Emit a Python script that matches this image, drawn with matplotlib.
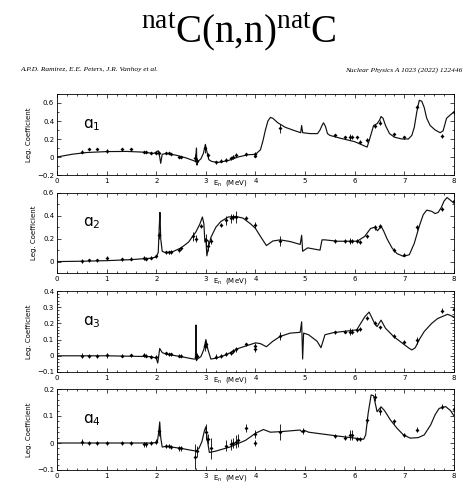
import matplotlib
matplotlib.use("Agg")
import matplotlib.pyplot as plt
from matplotlib.ticker import MultipleLocator, FuncFormatter

# --- Data ---
# a1
a1_curve_e = [0.0, 0.3, 0.6, 1.0, 1.4, 1.7, 1.95, 2.04, 2.07, 2.09, 2.12, 2.2, 2.4, 2.6, 2.75, 2.79, 2.81,
              2.82, 2.84, 2.9, 2.95, 2.99, 3.02, 3.06, 3.12, 3.25, 3.45, 3.65, 3.85, 4.0, 4.1, 4.15, 4.2,
              4.25, 4.3, 4.35, 4.45, 4.6, 4.75, 4.91, 4.93, 4.95, 5.1, 5.25, 5.3, 5.34, 5.37, 5.41, 5.45,
              5.5, 5.7, 6.0, 6.25, 6.3, 6.38, 6.45, 6.5, 6.53, 6.57, 6.62, 6.7, 6.8, 6.95, 7.08, 7.15, 7.2,
              7.25, 7.3, 7.35, 7.4, 7.45, 7.52, 7.62, 7.72, 7.78, 7.85, 7.93, 8.0]
a1_curve_v = [0.0, 0.03, 0.05, 0.06, 0.062, 0.055, 0.04, 0.07, 0.0, -0.07, 0.03, 0.04, 0.02, -0.01, -0.04,
              -0.05, 0.1, -0.09, -0.05, -0.02, 0.04, 0.14, 0.06, -0.03, -0.05, -0.06, -0.04, 0.0, 0.025, 0.03,
              0.08, 0.18, 0.3, 0.4, 0.44, 0.43, 0.38, 0.33, 0.3, 0.27, 0.35, 0.27, 0.26, 0.26, 0.3, 0.35,
              0.38, 0.34, 0.26, 0.24, 0.21, 0.17, 0.11, 0.2, 0.35, 0.37, 0.41, 0.45, 0.43, 0.35, 0.26, 0.22,
              0.2, 0.2, 0.24, 0.33, 0.5, 0.63, 0.62, 0.55, 0.43, 0.35, 0.3, 0.27, 0.29, 0.43, 0.47, 0.50]
a1_pts_e = [0.5, 0.65, 0.8, 1.0, 1.3, 1.5, 1.75, 1.8, 1.9, 2.0, 2.05, 2.2, 2.25, 2.3, 2.45, 2.5, 2.78, 2.82,
            2.98, 3.05, 3.2, 3.3, 3.4, 3.5, 3.55, 3.6, 3.8, 4.0, 4.0, 4.5, 5.6, 5.8, 5.9, 5.95, 6.05, 6.1,
            6.25, 6.4, 6.5, 6.8, 7.0, 7.25, 7.75, 8.0]
a1_pts_v = [0.06, 0.09, 0.09, 0.07, 0.09, 0.085, 0.055, 0.055, 0.05, 0.04, 0.05, 0.045, 0.04, 0.035, 0.0,
            0.0, -0.01, -0.04, 0.1, 0.02, -0.06, -0.04, -0.03, -0.015, 0.0, 0.02, 0.03, 0.03, 0.015, 0.32,
            0.24, 0.22, 0.22, 0.22, 0.22, 0.17, 0.19, 0.34, 0.38, 0.25, 0.22, 0.56, 0.23, 0.5]
a1_pts_err = [0.015, 0.015, 0.015, 0.02, 0.015, 0.015, 0.015, 0.015, 0.01, 0.01, 0.02, 0.01, 0.01, 0.01, 0.01,
              0.01, 0.04, 0.03, 0.05, 0.03, 0.02, 0.02, 0.02, 0.02, 0.02, 0.02, 0.02, 0.03, 0.02, 0.05,
              0.015, 0.015, 0.03, 0.02, 0.015, 0.015, 0.02, 0.02, 0.03, 0.02, 0.015, 0.02, 0.02, 0.03]

# a2
a2_curve_e = [0.0, 0.5, 1.0, 1.5, 1.9, 2.0, 2.04, 2.06, 2.075, 2.09, 2.12, 2.2, 2.35, 2.5, 2.65, 2.8, 2.88,
              2.93, 2.96, 2.98, 3.0, 3.02, 3.05, 3.1, 3.2, 3.3, 3.45, 3.6, 3.75, 3.9, 4.0, 4.1, 4.22, 4.35,
              4.5, 4.7, 4.9, 4.93, 4.95, 5.05, 5.3, 5.34, 5.4, 5.65, 6.05, 6.2, 6.32, 6.4, 6.46, 6.53, 6.58,
              6.65, 6.75, 6.85, 6.98, 7.1, 7.2, 7.3, 7.38, 7.45, 7.55, 7.62, 7.68, 7.74, 7.8, 7.86, 7.92,
              8.0]
a2_curve_v = [0.0, 0.003, 0.008, 0.017, 0.03, 0.04, 0.08, 0.3, 0.43, 0.2, 0.09, 0.075, 0.09, 0.12, 0.17,
              0.26, 0.33, 0.39, 0.33, 0.17, 0.2, 0.05, 0.12, 0.21, 0.3, 0.35, 0.39, 0.395, 0.38, 0.33, 0.29,
              0.22, 0.14, 0.18, 0.19, 0.175, 0.15, 0.23, 0.09, 0.12, 0.10, 0.19, 0.19, 0.178, 0.178, 0.22,
              0.29, 0.3, 0.27, 0.31, 0.27, 0.2, 0.12, 0.07, 0.046, 0.06, 0.16, 0.31, 0.41, 0.45, 0.44, 0.42,
              0.43, 0.47, 0.53, 0.56, 0.54, 0.51]
a2_pts_e = [0.5, 0.65, 0.8, 1.0, 1.3, 1.5, 1.75, 1.8, 1.9, 2.0, 2.05, 2.2, 2.25, 2.3, 2.45, 2.5, 2.75, 2.8,
            2.9, 3.0, 3.05, 3.1, 3.3, 3.4, 3.5, 3.55, 3.6, 3.8, 4.0, 4.5, 5.6, 5.8, 5.9, 5.95, 6.05, 6.1,
            6.25, 6.4, 6.5, 6.8, 7.0, 7.25, 7.75, 8.0]
a2_pts_v = [0.005, 0.01, 0.01, 0.03, 0.02, 0.025, 0.03, 0.025, 0.035, 0.045, 0.23, 0.08, 0.08, 0.085, 0.1,
            0.115, 0.22, 0.2, 0.31, 0.19, 0.14, 0.18, 0.32, 0.36, 0.38, 0.39, 0.39, 0.38, 0.32, 0.18, 0.18,
            0.18, 0.18, 0.18, 0.18, 0.17, 0.22, 0.3, 0.31, 0.1, 0.06, 0.3, 0.46, 0.53]
a2_pts_err = [0.02, 0.015, 0.015, 0.02, 0.015, 0.015, 0.015, 0.015, 0.015, 0.015, 0.03, 0.015, 0.015, 0.015,
              0.015, 0.015, 0.04, 0.03, 0.02, 0.05, 0.05, 0.03, 0.02, 0.04, 0.04, 0.03, 0.05, 0.02, 0.03,
              0.04, 0.015, 0.015, 0.03, 0.02, 0.015, 0.015, 0.015, 0.02, 0.02, 0.015, 0.015, 0.02, 0.02, 0.04]

# a3
a3_curve_e = [0.0, 1.0, 1.9, 2.0, 2.03, 2.07, 2.12, 2.2, 2.5, 2.75, 2.79, 2.8, 2.81, 2.83, 2.9, 2.96, 3.0,
              3.04, 3.1, 3.2, 3.4, 3.65, 3.9, 4.0, 4.1, 4.22, 4.35, 4.5, 4.7, 4.9, 4.93, 4.95, 4.97, 5.07,
              5.24, 5.32, 5.4, 5.57, 6.04, 6.2, 6.29, 6.4, 6.45, 6.53, 6.62, 6.78, 6.95, 7.08, 7.15, 7.22,
              7.3, 7.4, 7.55, 7.67, 7.87, 8.0]
a3_curve_v = [0.0, 0.0, -0.005, -0.015, -0.045, 0.045, 0.02, 0.01, -0.005, -0.02, -0.02, 0.19, -0.03,
              -0.02, -0.005, 0.04, 0.1, 0.04, -0.02, -0.015, 0.005, 0.045, 0.07, 0.08, 0.075, 0.056, 0.09,
              0.12, 0.14, 0.145, 0.21, -0.02, 0.14, 0.13, 0.09, 0.05, 0.13, 0.143, 0.16, 0.24, 0.27, 0.2,
              0.18, 0.22, 0.17, 0.12, 0.08, 0.05, 0.036, 0.05, 0.1, 0.15, 0.2, 0.23, 0.256, 0.24]
a3_pts_e = [0.5, 0.65, 0.8, 1.0, 1.3, 1.5, 1.75, 1.8, 1.9, 2.0, 2.2, 2.25, 2.3, 2.45, 2.5, 2.8, 2.82, 2.98,
            3.0, 3.2, 3.3, 3.4, 3.5, 3.55, 3.6, 3.8, 4.0, 4.0, 4.5, 5.6, 5.8, 5.9, 5.95, 6.05, 6.1, 6.25,
            6.4, 6.5, 6.8, 7.0, 7.25, 7.75, 8.0]
a3_pts_v = [0.0, 0.0, 0.0, 0.002, 0.0, 0.002, 0.005, 0.0, -0.005, -0.01, 0.015, 0.01, 0.01, 0.0, 0.0,
            -0.005, 0.0, 0.06, 0.07, -0.005, 0.0, 0.01, 0.02, 0.03, 0.04, 0.07, 0.06, 0.045, 0.12, 0.145,
            0.15, 0.15, 0.15, 0.16, 0.165, 0.235, 0.2, 0.175, 0.12, 0.083, 0.095, 0.277, 0.29]
a3_pts_err = [0.015, 0.012, 0.012, 0.015, 0.01, 0.01, 0.012, 0.01, 0.01, 0.012, 0.01, 0.01, 0.01, 0.01,
              0.01, 0.015, 0.015, 0.03, 0.02, 0.015, 0.012, 0.012, 0.012, 0.012, 0.015, 0.012, 0.02, 0.02,
              0.025, 0.01, 0.01, 0.02, 0.015, 0.01, 0.01, 0.012, 0.012, 0.012, 0.012, 0.012, 0.02, 0.015,
              0.015]

# a4
a4_curve_e = [0.0, 1.0, 1.9, 2.02, 2.05, 2.07, 2.09, 2.12, 2.2, 2.5, 2.8, 2.86, 2.92, 2.97, 3.0, 3.03, 3.07,
              3.2, 3.5, 3.8, 4.0, 4.16, 4.3, 4.5, 4.9, 4.94, 4.97, 5.07, 5.65, 6.18, 6.22, 6.27, 6.33, 6.38,
              6.45, 6.53, 6.6, 6.72, 6.85, 6.98, 7.12, 7.28, 7.4, 7.53, 7.62, 7.7, 7.83, 7.93, 8.0]
a4_curve_v = [0.0, 0.0, 0.0, 0.002, 0.04, 0.078, 0.02, -0.015, -0.012, -0.02, -0.03, -0.02, 0.005, 0.045,
              0.06, 0.01, -0.035, -0.03, -0.014, 0.01, 0.036, 0.05, 0.04, 0.042, 0.048, 0.04, 0.048, 0.04,
              0.026, 0.014, 0.03, 0.11, 0.178, 0.175, 0.116, 0.134, 0.12, 0.085, 0.055, 0.03, 0.018, 0.02,
              0.03, 0.067, 0.105, 0.128, 0.135, 0.12, 0.10]
a4_pts_e = [0.5, 0.65, 0.8, 1.0, 1.3, 1.5, 1.75, 1.8, 1.9, 2.0, 2.05, 2.2, 2.25, 2.3, 2.45, 2.5, 2.78, 2.82,
            3.0, 3.05, 3.1, 3.4, 3.5, 3.55, 3.6, 3.65, 3.8, 4.0, 4.0, 4.5, 4.95, 5.6, 5.8, 5.9, 5.95, 6.05,
            6.1, 6.25, 6.4, 6.5, 6.8, 7.0, 7.25, 7.75, 8.0]
a4_pts_v = [0.003, 0.0, 0.0, 0.0, 0.0, 0.0, -0.005, -0.005, 0.0, 0.005, 0.045, -0.01, -0.01, -0.015, -0.02,
            -0.02, -0.05, -0.03, 0.04, 0.015, -0.02, -0.01, -0.005, 0.0, 0.005, 0.01, 0.055, 0.035, 0.0,
            0.04, 0.045, 0.025, 0.02, 0.03, 0.03, 0.015, 0.015, 0.085, 0.17, 0.12, 0.08, 0.03, 0.05, 0.135,
            0.125]
a4_pts_err = [0.01, 0.008, 0.008, 0.008, 0.006, 0.006, 0.008, 0.008, 0.006, 0.008, 0.02, 0.008, 0.008,
              0.008, 0.008, 0.008, 0.045, 0.02, 0.03, 0.02, 0.04, 0.02, 0.02, 0.02, 0.025, 0.025, 0.015,
              0.015, 0.01, 0.03, 0.01, 0.008, 0.008, 0.02, 0.02, 0.008, 0.008, 0.01, 0.015, 0.015, 0.01,
              0.008, 0.01, 0.01, 0.015]

panels = [
    ("1", a1_curve_e, a1_curve_v, a1_pts_e, a1_pts_v, a1_pts_err, (-0.2, 0.7), 0.2, 0.1),
    ("2", a2_curve_e, a2_curve_v, a2_pts_e, a2_pts_v, a2_pts_err, (-0.1, 0.6), 0.2, 0.1),
    ("3", a3_curve_e, a3_curve_v, a3_pts_e, a3_pts_v, a3_pts_err, (-0.1, 0.4), 0.1, 0.02),
    ("4", a4_curve_e, a4_curve_v, a4_pts_e, a4_pts_v, a4_pts_err, (-0.1, 0.2), 0.1, 0.02),
]

# axes boxes in pixels (top, bottom) of the 477x491 figure
W, H = 477, 491
boxes = [(94, 175), (193, 273), (291, 372), (389, 470)]
left_px, right_px = 57, 454

plt.rcParams['mathtext.rm'] = 'Liberation Serif'


def ytick_fmt(v, _):
    if abs(v) < 1e-9:
        return "0"
    return f"{v:g}".replace("-", "\u2212")


fig = plt.figure(figsize=(W / 100, H / 100), dpi=100)

fig.text(0.5, 1 - 42 / H, r'$^{\mathrm{nat}}$C(n,n)$^{\mathrm{nat}}$C', ha='center', va='baseline',
         fontsize=28, family='Liberation Serif', math_fontfamily='custom')
fig.text(20 / W, 1 - 70 / H, "A.P.D. Ramirez, E.E. Peters, J.R. Vanhoy et al.", ha='left', va='center',
         fontsize=5.3, family='Liberation Serif', style='italic')
fig.text(462 / W, 1 - 70 / H, "Nuclear Physics A 1023 (2022) 122446", ha='right', va='center',
         fontsize=5.3, family='Liberation Serif', style='italic')

for (top, bot), (idx, ce, cv, pe, pv, perr, ylim, ymaj, ymin) in zip(boxes, panels):
    ax = fig.add_axes([left_px / W, 1 - bot / H, (right_px - left_px) / W, (bot - top) / H])
    ax.plot(ce, cv, color='#111111', lw=0.85)
    ax.errorbar(pe, pv, yerr=perr, fmt='D', ms=2.0, color='black', ecolor='black', elinewidth=0.6,
                capsize=0, mew=0)
    ax.set_xlim(0, 8)
    ax.set_ylim(*ylim)
    ax.xaxis.set_major_locator(MultipleLocator(1))
    ax.xaxis.set_minor_locator(MultipleLocator(0.2))
    ax.yaxis.set_major_locator(MultipleLocator(ymaj))
    ax.yaxis.set_minor_locator(MultipleLocator(ymin))
    ax.yaxis.set_major_formatter(FuncFormatter(ytick_fmt))
    ax.tick_params(which='both', direction='in', top=True, right=True, labelsize=5, pad=2, width=0.5)
    ax.tick_params(which='major', length=3)
    ax.tick_params(which='minor', length=1.5)
    for s in ax.spines.values():
        s.set_linewidth(0.6)
    ax.set_ylabel("Leg. Coefficient", fontsize=5, labelpad=4)
    ax.annotate(r"E$_\mathsf{n}$  (MeV)", xy=(3.15, 0), xycoords=('data', 'axes fraction'),
                xytext=(0, -2.3), textcoords='offset points', ha='left', va='top', fontsize=5)
    ax.text(0.065, 0.62, "\u0251$_{%s}$" % idx, transform=ax.transAxes, fontsize=11, va='center',
            ha='left')

fig.savefig("out.png", dpi=100)
